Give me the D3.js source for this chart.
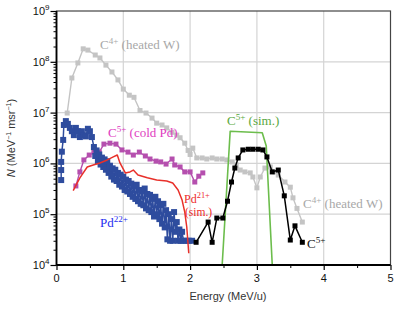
<!DOCTYPE html>
<html>
<head>
<meta charset="utf-8">
<script src="https://cdn.jsdelivr.net/npm/d3@7"></script>
<style>
  body { margin: 0; background: #fff; }
  svg { display: block; }
</style>
</head>
<body>
<svg id="chart" width="399" height="309"></svg>
<script>
"use strict";

// tick labels
var xTicks = [0, 1, 2, 3, 4, 5];
var yDecades = [4, 5, 6, 7, 8, 9];

// C4+ (heated W), grey squares
var heatedW = [
  [0.16, 9.8e6], [0.23, 4.8e7], [0.32, 9.5e7], [0.40, 1.8e8], [0.47, 1.7e8],
  [0.58, 1.36e8], [0.65, 1.19e8], [0.74, 8.6e7], [0.83, 6.3e7], [0.92, 4.4e7],
  [1.0, 2.9e7], [1.09, 2.2e7], [1.16, 2.0e7], [1.25, 1.1e7], [1.34, 9.8e6],
  [1.43, 7.8e6], [1.50, 6.2e6], [1.58, 5.7e6], [1.65, 5.0e6], [1.73, 4.1e6],
  [1.80, 3.6e6], [1.85, 3.2e6], [1.92, 2.5e6], [1.97, 1.8e6], [2.0, 1.5e6],
  [2.04, 2.0e6], [2.10, 1.28e6], [2.18, 1.28e6], [2.25, 1.22e6], [2.33, 1.28e6],
  [2.40, 1.22e6], [2.48, 1.22e6], [2.55, 1.17e6], [2.63, 1.07e6], [2.69, 9.3e5],
  [2.75, 7.4e5], [2.82, 6.8e5], [2.90, 6.5e5], [2.94, 5.4e5], [3.0, 3.3e5],
  [3.05, 5.4e5], [3.12, 8.1e5], [3.20, 8.5e5], [3.27, 6.8e5], [3.32, 5.9e5],
  [3.42, 4.3e5], [3.50, 3.4e5], [3.54, 2.1e5], [3.60, 1.3e5], [3.68, 7.0e4]
];

// C5+ (cold Pd), magenta squares
var coldPd = [
  [0.29, 3.6e5], [0.35, 6.8e5], [0.41, 1.17e6], [0.49, 1.46e6], [0.56, 1.67e6],
  [0.64, 1.67e6], [0.71, 2.4e6], [0.80, 2.5e6], [0.89, 2.4e6], [0.98, 1.84e6],
  [1.07, 1.67e6], [1.15, 1.46e6], [1.24, 1.67e6], [1.33, 1.4e6], [1.40, 1.22e6],
  [1.49, 1.11e6], [1.56, 1.07e6], [1.64, 9.7e5], [1.73, 1.22e6], [1.77, 9.3e5],
  [1.85, 8.5e5], [1.92, 6.8e5], [2.0, 6.8e5], [2.07, 4.3e5], [2.13, 5.6e5],
  [2.19, 6.5e5]
];

// Pd22+, blue squares
var pd22 = [
  [0.07, 4.7e5], [0.07, 7.4e5], [0.07, 1.07e6], [0.08, 1.7e6], [0.10, 2.9e6],
  [0.11, 5.7e6], [0.14, 6.8e6], [0.17, 6.0e6], [0.20, 5.0e6], [0.23, 4.3e6],
  [0.26, 3.6e6], [0.29, 5.0e6], [0.32, 4.3e6], [0.35, 3.3e6], [0.38, 4.3e6],
  [0.41, 3.6e6], [0.44, 3.4e6], [0.47, 4.8e6], [0.50, 4.3e6], [0.53, 3.3e6],
  [0.56, 2.1e6], [0.58, 1.4e6], [0.60, 1.8e6], [0.62, 1.1e6], [0.64, 1.5e6],
  [0.66, 9.5e5], [0.68, 1.3e6], [0.70, 8.5e5], [0.72, 1.2e6], [0.74, 7.5e5],
  [0.76, 1.1e6], [0.78, 6.5e5], [0.80, 9.0e5], [0.82, 5.5e5], [0.84, 8.0e5],
  [0.86, 4.8e5], [0.88, 7.5e5], [0.90, 4.5e5], [0.92, 6.5e5], [0.94, 3.8e5],
  [0.96, 6.0e5], [0.98, 3.5e5], [1.00, 5.5e5], [1.02, 3.0e5], [1.04, 4.8e5],
  [1.06, 2.8e5], [1.08, 4.5e5], [1.10, 2.5e5], [1.12, 4.0e5], [1.14, 2.2e5],
  [1.16, 3.5e5], [1.18, 2.0e5], [1.20, 3.8e5], [1.22, 1.8e5], [1.24, 3.0e5],
  [1.26, 1.6e5], [1.28, 2.8e5], [1.30, 1.5e5], [1.32, 3.2e5], [1.34, 1.3e5],
  [1.36, 2.5e5], [1.38, 1.2e5], [1.40, 2.4e5], [1.42, 1.1e5], [1.44, 2.0e5],
  [1.46, 9.0e4], [1.48, 2.2e5], [1.50, 1.0e5], [1.52, 1.8e5], [1.54, 8.0e4],
  [1.56, 1.5e5], [1.58, 6.5e4], [1.60, 1.6e5], [1.62, 5.5e4], [1.64, 1.2e5],
  [1.66, 3.2e4], [1.68, 1.0e5], [1.70, 3.0e4], [1.72, 8.0e4], [1.74, 3.0e4],
  [1.76, 1.1e5], [1.78, 4.5e4], [1.80, 7.0e4], [1.82, 3.0e4], [1.84, 5.0e4],
  [1.86, 3.0e4], [1.88, 4.5e4], [1.90, 3.0e4], [1.94, 3.0e4], [1.98, 3.0e4],
  [2.03, 3.0e4]
];

// C5+, black squares
var c5 = [
  [2.09, 2.8e4], [2.27, 7.0e4], [2.33, 2.8e4], [2.40, 8.4e4], [2.49, 8.4e4],
  [2.56, 1.8e5], [2.62, 4.3e5], [2.67, 8.1e5], [2.72, 1.28e6], [2.79, 1.84e6],
  [2.87, 1.9e6], [2.94, 1.9e6], [3.02, 1.9e6], [3.09, 1.84e6], [3.15, 1.34e6],
  [3.23, 6.8e5], [3.32, 7.4e5], [3.41, 2.3e5], [3.50, 3.1e4], [3.57, 5.9e4],
  [3.68, 2.8e4]
];

// Pd21+ (sim.), red line
var pd21Sim = [
  [0.25, 2.9e5], [0.35, 5.2e5], [0.46, 8.5e5], [0.55, 9.3e5], [0.65, 1.02e6],
  [0.76, 1.17e6], [0.85, 1.34e6], [0.91, 1.46e6], [0.95, 1.02e6], [1.03, 6.5e5],
  [1.10, 6.8e5], [1.15, 7.4e5], [1.22, 5.9e5], [1.36, 5.2e5], [1.50, 4.7e5],
  [1.65, 4.5e5], [1.74, 4.1e5], [1.82, 3.0e5], [1.88, 1.9e5], [1.92, 1.1e5],
  [1.95, 5.6e4], [1.98, 1.7e4]
];

// C5+ (sim.), green line
var c5Sim = [
  [2.48, 1e4], [2.60, 4.3e6], [3.08, 4.0e6], [3.14, 2.2e6], [3.23, 1e4]
];

var margin = { top: 11, left: 56.5 },
  width = 334,
  height = 254;

var svg = d3.select("#chart");
var g = svg.append("g").attr("transform", "translate(" + margin.left + "," + margin.top + ")");

var x = d3.scaleLinear().domain([0, 5]).range([0, width]);
var y = d3.scaleLog().domain([1e4, 1e9]).range([height, 0]);

var sans = "'Liberation Sans', Arial, sans-serif";
var serif = "'Liberation Serif', 'Times New Roman', serif";

// grid
g.append("g")
  .selectAll("line")
  .data(xTicks.slice(1, -1))
  .join("line")
  .attr("x1", (d) => x(d))
  .attr("x2", (d) => x(d))
  .attr("y1", 0)
  .attr("y2", height)
  .attr("stroke", "#d4d4d4")
  .attr("stroke-width", 1.2);
g.append("g")
  .selectAll("line")
  .data(yDecades.slice(1, -1))
  .join("line")
  .attr("x1", 0)
  .attr("x2", width)
  .attr("y1", (d) => y(Math.pow(10, d)))
  .attr("y2", (d) => y(Math.pow(10, d)))
  .attr("stroke", "#d4d4d4")
  .attr("stroke-width", 1.2);

// clip for data
svg.append("defs").append("clipPath").attr("id", "clip")
  .append("rect").attr("width", width).attr("height", height);
var plot = g.append("g").attr("clip-path", "url(#clip)");

var line = d3.line().x((d) => x(d[0])).y((d) => y(d[1]));

function series(data, color, lw, marker, size) {
  plot.append("path")
    .datum(data)
    .attr("d", line)
    .attr("fill", "none")
    .attr("stroke", color)
    .attr("stroke-width", lw)
    .attr("stroke-linejoin", "round");
  if (marker) {
    plot.append("g")
      .selectAll("rect")
      .data(data)
      .join("rect")
      .attr("x", (d) => x(d[0]) - size / 2)
      .attr("y", (d) => y(d[1]) - size / 2)
      .attr("width", size)
      .attr("height", size)
      .attr("fill", marker);
  }
}

series(heatedW, "#c4c4c4", 1.4, "#c4c4c4", 5);
series(coldPd, "#b54fae", 1.4, "#b54fae", 5);
series(pd22, "#2e4c9e", 1.5, "#2e4c9e", 6);
series(pd21Sim, "#e8302a", 1.5, null);
series(c5Sim, "#6cbd4c", 1.6, null);
series(c5, "#000", 1.5, "#000", 5);

// frame
g.append("rect")
  .attr("width", width)
  .attr("height", height)
  .attr("fill", "none")
  .attr("stroke", "#444")
  .attr("stroke-width", 1.2);
g.append("line").attr("x1", 0).attr("x2", 0).attr("y1", 0).attr("y2", height)
  .attr("stroke", "#000").attr("stroke-width", 1.8);
g.append("line").attr("x1", 0).attr("x2", width).attr("y1", height).attr("y2", height)
  .attr("stroke", "#000").attr("stroke-width", 1.8);

// y axis ticks
var minorY = y.ticks().filter((d) => Math.abs(Math.log10(d) - Math.round(Math.log10(d))) > 1e-6);
g.append("g")
  .call(d3.axisLeft(y).tickValues(minorY).tickSize(3).tickFormat(""))
  .call((a) => a.select(".domain").remove())
  .selectAll("line").attr("stroke", "#000");
g.append("g")
  .call(d3.axisLeft(y).tickValues(yDecades.map((d) => Math.pow(10, d))).tickSize(6).tickFormat(""))
  .call((a) => a.select(".domain").remove())
  .selectAll("line").attr("stroke", "#000").attr("stroke-width", 1.2);

var yl = g.append("g").selectAll("text")
  .data(yDecades)
  .join("text")
  .attr("x", -7)
  .attr("y", (d) => y(Math.pow(10, d)) + 4)
  .attr("text-anchor", "end")
  .attr("font-family", sans)
  .attr("font-size", 11)
  .attr("fill", "#111");
yl.append("tspan").text("10");
yl.append("tspan").attr("dy", -5).attr("font-size", 8).text((d) => d);

// x axis ticks
g.append("g")
  .attr("transform", "translate(0," + height + ")")
  .call(d3.axisBottom(x).tickValues([0.5, 1.5, 2.5, 3.5, 4.5]).tickSize(3).tickFormat(""))
  .call((a) => a.select(".domain").remove())
  .selectAll("line").attr("stroke", "#000");
g.append("g")
  .attr("transform", "translate(0," + height + ")")
  .call(d3.axisBottom(x).tickValues(xTicks).tickSize(5).tickFormat(""))
  .call((a) => a.select(".domain").remove())
  .selectAll("line").attr("stroke", "#000").attr("stroke-width", 1.2);
g.append("g").selectAll("text")
  .data(xTicks)
  .join("text")
  .attr("x", (d) => x(d))
  .attr("y", height + 17)
  .attr("text-anchor", "middle")
  .attr("font-family", sans)
  .attr("font-size", 11)
  .attr("fill", "#111")
  .text((d) => d);

// axis titles
svg.append("text")
  .attr("x", 228)
  .attr("y", 300)
  .attr("text-anchor", "middle")
  .attr("font-family", sans)
  .attr("font-size", 11)
  .attr("fill", "#333")
  .text("Energy (MeV/u)");

var yt = svg.append("text")
  .attr("transform", "translate(15,138) rotate(-90)")
  .attr("text-anchor", "middle")
  .attr("font-family", sans)
  .attr("font-size", 11)
  .attr("fill", "#333");
yt.append("tspan").attr("font-style", "italic").text("N");
yt.append("tspan").text(" (MeV");
yt.append("tspan").attr("dy", -4).attr("font-size", 7).text("\u22121");
yt.append("tspan").attr("dy", 4).text(" msr");
yt.append("tspan").attr("dy", -4).attr("font-size", 7).text("\u22121");
yt.append("tspan").attr("dy", 4).text(")");

// annotations
function note(px, py, base, sup, rest, color, fs) {
  fs = fs || 13;
  var t = svg.append("text")
    .attr("x", px)
    .attr("y", py)
    .attr("font-family", serif)
    .attr("font-size", fs)
    .attr("fill", color);
  t.append("tspan").text(base);
  t.append("tspan").attr("dy", -5).attr("font-size", fs * 0.7).text(sup);
  if (rest) t.append("tspan").attr("dy", 5).text(rest);
}

note(100, 49, "C", "4+", " (heated W)", "#a8a8a8");
note(108, 137, "C", "5+", " (cold Pd)", "#e03cbf");
note(227, 125, "C", "5+", " (sim.)", "#5aa83e");
note(184, 203, "Pd", "21+", "", "#ee2a2a", 12);
svg.append("text")
  .attr("x", 185).attr("y", 216)
  .attr("font-family", serif).attr("font-size", 11.5)
  .attr("fill", "#ee2a2a").text("(sim.)");
note(100, 227, "Pd", "22+", "", "#1f2ef0");
note(303, 208, "C", "4+", " (heated W)", "#a8a8a8");
note(307, 248, "C", "5+", "", "#111");
</script>
</body>
</html>
